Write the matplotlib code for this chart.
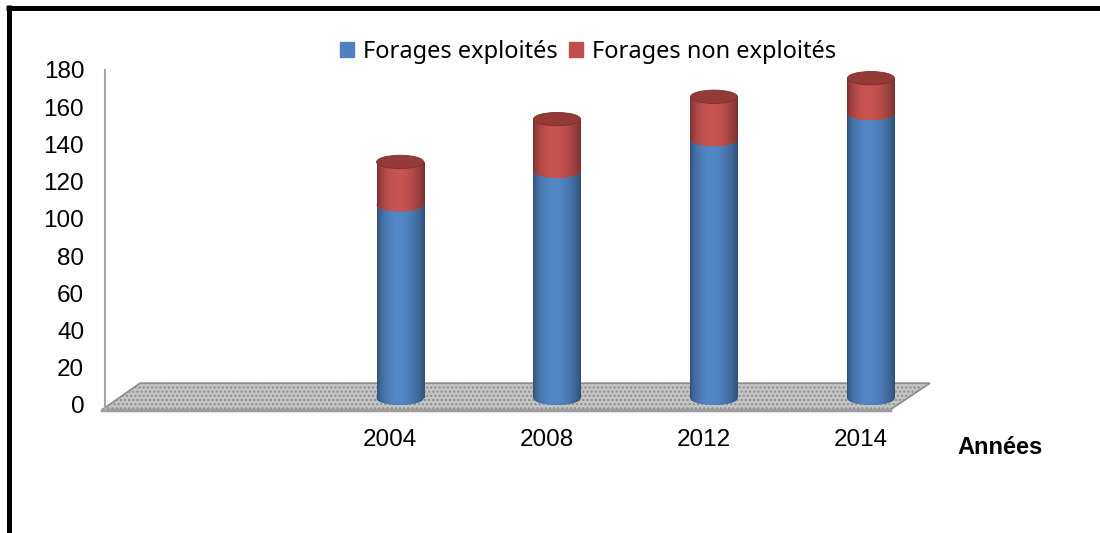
import matplotlib
matplotlib.use("Agg")
import matplotlib.pyplot as plt
import matplotlib.transforms as mtransforms
import numpy as np
from matplotlib.patches import Rectangle, Ellipse, Polygon, Patch
from matplotlib.lines import Line2D
from matplotlib.colors import to_rgb

# --- data ---
years = ["", "2004", "2008", "2012", "2014"]
exploites = [0, 104, 122, 139, 153]
non_exploites = [0, 23, 28, 23, 19]
yticks = [0, 20, 40, 60, 80, 100, 120, 140, 160, 180]

BLUE = "#4F81BD"
RED = "#C0504D"
RED_TOP = "#943A37"
NARROW = ["Liberation Sans Narrow", "Liberation Sans", "DejaVu Sans"]

W = 0.30      # cylinder width (category units)
H = 3.6       # half height of the elliptical caps (value units)

fig = plt.figure(figsize=(11, 5.33), dpi=100)
ax = fig.add_axes([105 / 1100, 1 - 410 / 533, 835 / 1100, 340 / 533])
ax.set_xlim(-0.88, 4.44)
ax.set_ylim(-2.7, 180)


def gradient(color, n=80):
    u = np.linspace(0, 1, n)
    f = 0.62 + 0.43 * np.sin(np.pi * u ** 0.85) ** 0.8
    rgb = np.array(to_rgb(color))
    return np.clip(rgb[None, :] * f[:, None], 0, 1)[None, :, :]


z = [3]


def shaded(patch, color, x, y0, y1):
    patch.set_facecolor(color)
    patch.set_edgecolor("none")
    patch.set_zorder(z[0])
    ax.add_patch(patch)
    im = ax.imshow(gradient(color), extent=(x - W / 2, x + W / 2, y0, y1),
                   aspect="auto", zorder=z[0] + 0.5, interpolation="bilinear")
    im.set_clip_path(patch)
    z[0] += 1


def segment(x, y0, y1, color, top_color=None):
    # front arcs pass through y0 and y1
    shaded(Ellipse((x, y0 + H), W, 2 * H), color, x, y0, y0 + 2 * H)
    shaded(Rectangle((x - W / 2, y0 + H), W, y1 - y0), color, x, y0 + H, y1 + H)
    if top_color is not None:
        top = Ellipse((x, y1 + H), W, 2 * H, facecolor=top_color,
                      edgecolor="#7F2F2D", lw=0.6, zorder=z[0])
        ax.add_patch(top)
        z[0] += 1


# --- floor ---
plt.rcParams["hatch.color"] = "#9A9A9A"
floor = Polygon([(-0.004, 0), (0.940, 0), (0.988, 0.079), (0.042, 0.079)],
                closed=True, transform=ax.transAxes, clip_on=False,
                facecolor="#C4C4C4", edgecolor="#8C8C8C", hatch="....", lw=1.2, zorder=1)
ax.add_patch(floor)
ax.plot([-0.004, 0.940], [0, 0], transform=ax.transAxes, clip_on=False,
        color="#9C9C9C", lw=2.5, zorder=2)

# --- cylinders ---
for i, (b, r) in enumerate(zip(exploites, non_exploites)):
    if b + r == 0:
        continue
    segment(i, 0, b, BLUE)
    segment(i, b, b + r, RED, top_color=RED_TOP)

# --- axes styling ---
for s in ["top", "right", "bottom"]:
    ax.spines[s].set_visible(False)
ax.spines["left"].set_color("#A6A6A6")
ax.spines["left"].set_linewidth(1.5)
ax.set_yticks(yticks)
ax.set_yticklabels([str(v) for v in yticks], family=NARROW, fontsize=17.5)
ax.tick_params(axis="y", length=0, pad=15)
ax.set_xticks(range(1, len(years)))
ax.set_xticklabels(years[1:], family=NARROW, fontsize=17.5)
ax.tick_params(axis="x", length=0, pad=14)
off = mtransforms.ScaledTranslation(-10 / 100, 0, fig.dpi_scale_trans)
for lab in ax.get_xticklabels():
    lab.set_transform(lab.get_transform() + off)

fig.text(1000 / 1100, 1 - 447 / 533, "Années", family=NARROW, fontsize=17,
         fontweight="bold", ha="center", va="center")

handles = [Patch(color=BLUE, label="Forages exploités"),
           Patch(color=RED, label="Forages non exploités")]
fig.legend(handles=handles, loc="center", bbox_to_anchor=(588 / 1100, 1 - 52 / 533),
           ncol=2, frameon=False, handlelength=0.6, handleheight=0.6,
           handletextpad=0.35, columnspacing=0.5,
           prop={"family": ["Noto Sans", "DejaVu Sans"], "size": 17})

# --- frame ---
fig.add_artist(Line2D([8.5 / 1100, 8.5 / 1100], [0, 1 - 5 / 533], color="black",
                      lw=3.6, transform=fig.transFigure, solid_capstyle="butt"))
fig.add_artist(Line2D([6 / 1100, 1], [1 - 7.5 / 533, 1 - 7.5 / 533], color="black",
                      lw=3.6, transform=fig.transFigure, solid_capstyle="butt"))

fig.savefig("out.png", dpi=100)
